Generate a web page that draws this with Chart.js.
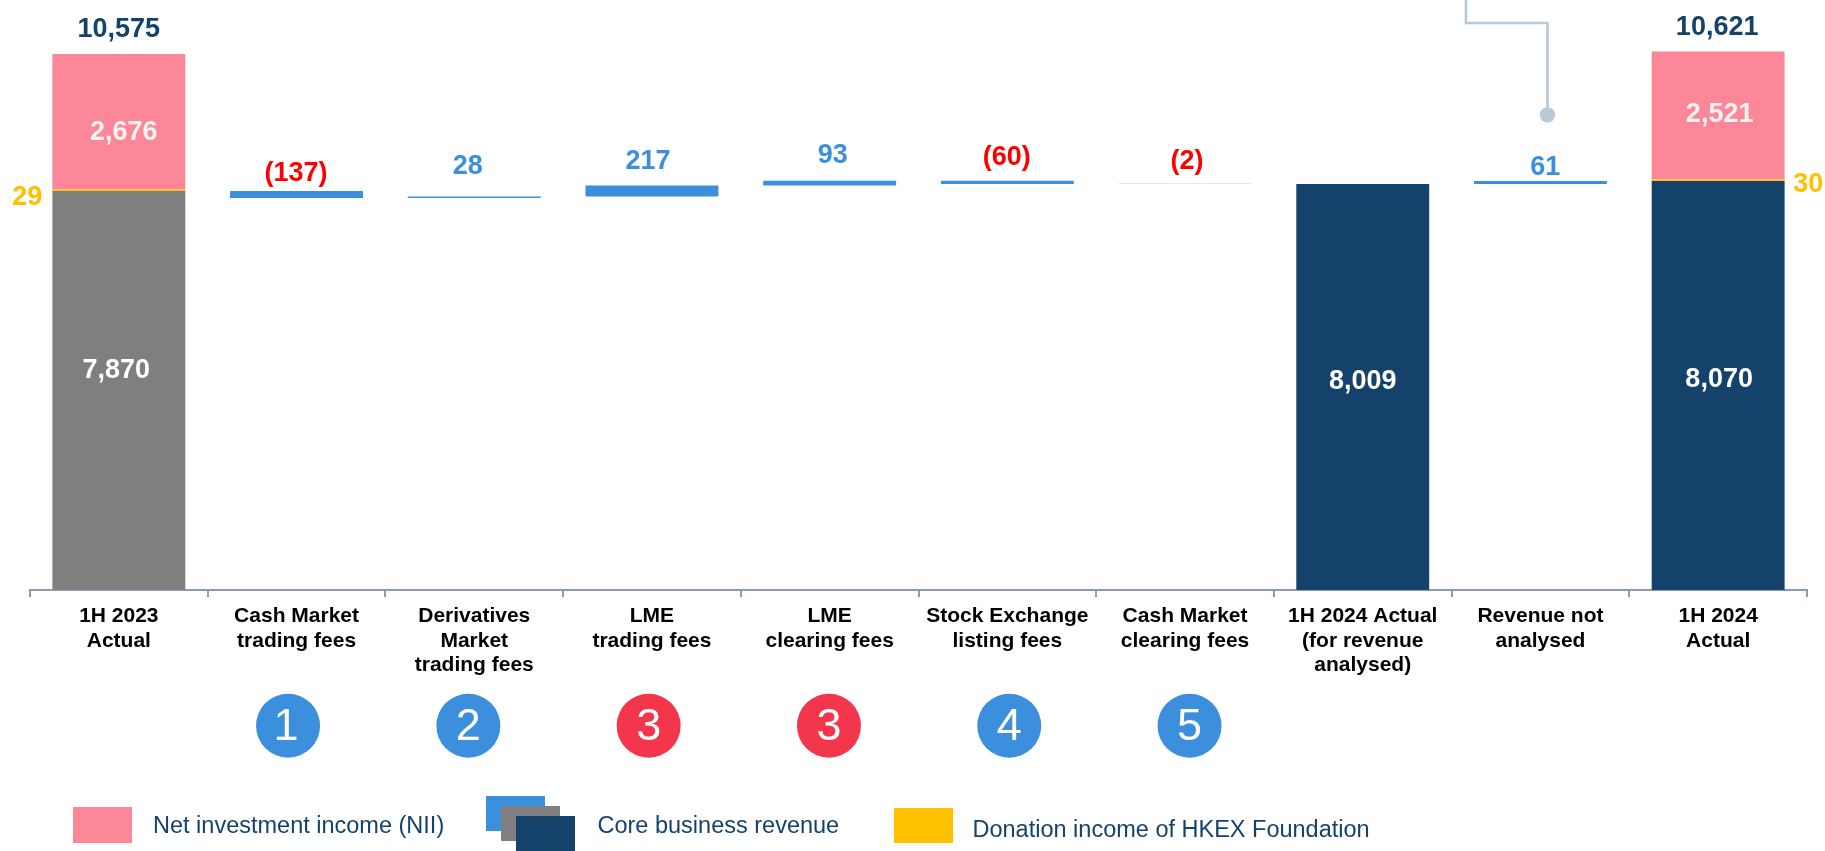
<!DOCTYPE html>
<html><head><meta charset="utf-8">
<script src="https://cdn.jsdelivr.net/npm/chart.js@4"></script>
<style>html,body{margin:0;padding:0;background:#fff;overflow:hidden}canvas{display:block}</style>
</head><body><canvas id="c" width="1825" height="851"></canvas>
<script>
const categories = [
  ["1H 2023","Actual"],["Cash Market","trading fees"],["Derivatives","Market","trading fees"],
  ["LME","trading fees"],["LME","clearing fees"],["Stock Exchange","listing fees"],
  ["Cash Market","clearing fees"],["1H 2024 Actual","(for revenue","analysed)"],
  ["Revenue not","analysed"],["1H 2024","Actual"]
];
const core2023 = 7870;
const coreAnalysed2024 = 8009;
const core2024 = 8070;
const nii = [2676, 2521];
const donation = [29, 30];
const changes = [-137, 28, 217, 93, -60, -2];
const notAnalysed = 61;
const totals = [10575, 10621];
const badgeNumbers = ["1","2","3","3","4","5"];
const badgeKinds = ["blue","blue","red","red","blue","blue"];
const legendLabels = ["Net investment income (NII)","Core business revenue","Donation income of HKEX Foundation"];

const NAVY="#14426B",GREY="#7F7F7F",BLUE="#3B8FDD",PALE="#DCEBF9",PINK="#FB8798",GOLD="#FFC000",RED="#FF0000",BADGE_RED="#F4364C",LEAD="#B8C9D9",AXIS="#8C9BB0";
const FONT='"Liberation Sans", Arial, sans-serif';

// running waterfall levels
const steps=[]; let level=core2023;
changes.forEach(d=>{steps.push([level,level+d]); level+=d;});
const blueRanges=[null,...steps,null,[coreAnalysed2024,coreAnalysed2024+notAnalysed],null];
const blueColours=categories.map((_,i)=>i===6?PALE:BLUE);
const greyRanges=categories.map((_,i)=>i===0?[0,core2023]:null);
const navyRanges=categories.map((_,i)=>i===7?[0,coreAnalysed2024]:i===9?[0,core2024]:null);
const goldRanges=categories.map((_,i)=>i===0?[core2023,core2023+donation[0]]:i===9?[core2024,core2024+donation[1]]:null);
const pinkRanges=categories.map((_,i)=>i===0?[core2023+donation[0],totals[0]]:i===9?[core2024+donation[1],totals[1]]:null);

const fmt=v=>{const s=Math.abs(v).toLocaleString("en-US");return v<0?"("+s+")":s;};
const upper=r=>Math.max(r[0],r[1]);
// value labels: category, value shown, level it hangs from, colour, pixel nudge
const valueLabels=[
  {c:0,v:totals[0],at:totals[0],col:NAVY,dx:0,dy:-24.3},
  {c:0,v:nii[0],at:totals[0],col:"#F2F2F2",dx:5,dy:78.2},
  {c:0,v:core2023,at:core2023,col:"#FFFFFF",dx:-2.5,dy:179.7},
  {c:0,v:donation[0],at:core2023+donation[0],col:GOLD,dx:-91.5,dy:7.6},
  ...changes.map((d,i)=>({c:i+1,v:d,at:upper(steps[i]),col:d<0?RED:BLUE,dx:[-0.5,-6.6,-4,3,-0.7,2][i],dy:[-17.7,-29.8,-23.9,-25.6,-23.3,-22.8][i]})),
  {c:7,v:coreAnalysed2024,at:coreAnalysed2024,col:"#FFFFFF",dx:0,dy:197.8},
  {c:8,v:notAnalysed,at:core2024,col:BLUE,dx:4.9,dy:-13.7},
  {c:9,v:totals[1],at:totals[1],col:NAVY,dx:-1,dy:-23.8},
  {c:9,v:nii[1],at:totals[1],col:"#F2F2F2",dx:1.5,dy:62.7},
  {c:9,v:donation[1],at:core2024+donation[1],col:GOLD,dx:90,dy:5.5},
  {c:9,v:core2024,at:core2024,col:"#FFFFFF",dx:1,dy:198.3}
];

const decor={
  id:"decor",
  afterDatasetsDraw(chart){
    const {ctx,scales:{x,y}}=chart;
    ctx.save();
    // value labels
    ctx.textAlign="center";ctx.textBaseline="middle";
    ctx.font="bold 27px "+FONT;
    valueLabels.forEach(l=>{
      ctx.fillStyle=l.col;
      ctx.fillText(fmt(l.v),x.getPixelForValue(l.c)+l.dx,y.getPixelForValue(l.at)+l.dy);
    });
    // leader above "Revenue not analysed"
    const lx=x.getPixelForValue(8)+7, ly=y.getPixelForValue(core2024)-66;
    ctx.strokeStyle=LEAD;ctx.lineWidth=2.6;
    ctx.beginPath();ctx.moveTo(lx-81.5,0);ctx.lineTo(lx-81.5,23);ctx.lineTo(lx,23);ctx.lineTo(lx,ly);ctx.stroke();
    ctx.fillStyle=LEAD;ctx.beginPath();ctx.arc(lx,ly,7.7,0,Math.PI*2);ctx.fill();
    // numbered badges
    const first=x.getPixelForValue(1)-8.5, gap=180.3;
    badgeNumbers.forEach((n,i)=>{
      const cx=first+gap*i, cy=725.7;
      ctx.fillStyle=badgeKinds[i]==="red"?BADGE_RED:BLUE;
      ctx.beginPath();ctx.arc(cx,cy,32,0,Math.PI*2);ctx.fill();
      ctx.fillStyle="#FFFFFF";ctx.font="45px "+FONT;
      ctx.fillText(n,cx+(n==="1"?-2:0),cy+1.5);
    });
    // legend
    const sw=(col,a,b,c,d)=>{ctx.fillStyle=col;ctx.fillRect(a,b,c,d);};
    sw(PINK,73,807,59,36);
    sw(BLUE,486,796,59,35);sw(GREY,501,806,59,35);sw(NAVY,516,816,59,35);
    sw(GOLD,894,808,59,35);
    ctx.fillStyle=NAVY;ctx.textAlign="left";ctx.font="23.5px "+FONT;
    ctx.fillText(legendLabels[0],153,826.5);
    ctx.fillText(legendLabels[1],597.5,826.5);
    ctx.fillText(legendLabels[2],972.5,831);
    ctx.restore();
  }
};

const barDs=(label,data,col,extra)=>({label,data,backgroundColor:col,borderWidth:0,barPercentage:0.748,categoryPercentage:1,grouped:false,...extra});
new Chart(document.getElementById("c"),{
  type:"bar",
  data:{labels:categories,datasets:[
    barDs("Core 1H 2023",greyRanges,GREY),
    barDs("Core 1H 2024",navyRanges,NAVY),
    barDs("Change",blueRanges,blueColours,{minBarLength:1}),
    barDs("Donation",goldRanges,GOLD),
    barDs("NII",pinkRanges,PINK)
  ]},
  options:{
    responsive:false,animation:false,devicePixelRatio:1,
    layout:{padding:{left:30,right:18,top:0,bottom:0}},
    plugins:{legend:{display:false},tooltip:{enabled:false},title:{display:false}},
    scales:{
      y:{display:false,min:0,max:11639,grid:{display:false}},
      x:{
        offset:true,
        afterFit(s){s.height=261;s.paddingLeft=0;s.paddingRight=0;},
        border:{color:AXIS,width:2},
        grid:{offset:true,drawOnChartArea:false,drawTicks:true,tickLength:7,color:AXIS,lineWidth:2},
        ticks:{autoSkip:false,maxRotation:0,minRotation:0,padding:7,color:"#000000",
          font:{family:FONT,size:21,weight:"bold",lineHeight:1.17}}
      }
    }
  },
  plugins:[decor]
});
</script></body></html>
